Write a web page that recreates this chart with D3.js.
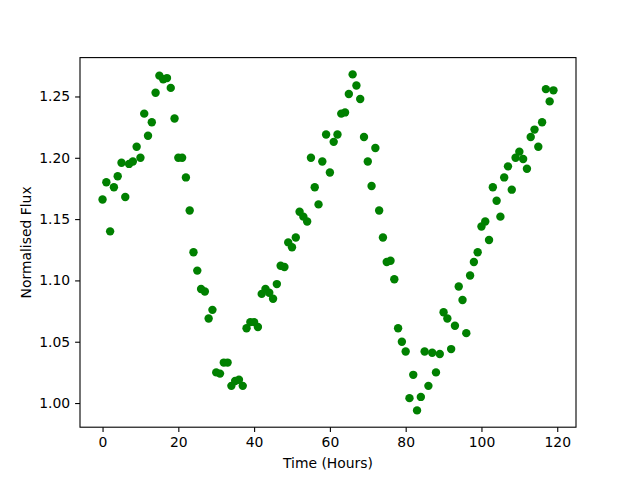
<!DOCTYPE html>
<html>
<head>
<meta charset="utf-8">
<script src="https://cdn.jsdelivr.net/npm/d3@7"></script>
<style>
  body { margin: 0; background: #fff; }
  svg text { font-family: "DejaVu Sans", sans-serif; }
</style>
</head>
<body>
<svg id="chart" width="640" height="480"></svg>
<script>
// hours 0..119, one reading per hour
const hours = d3.range(0, 120);
const flux = [
  1.166, 1.180, 1.140, 1.176, 1.185, 1.196, 1.168, 1.195, 1.197, 1.209,
  1.200, 1.236, 1.218, 1.229, 1.253, 1.267, 1.264, 1.265, 1.257, 1.232,
  1.200, 1.200, 1.184, 1.157, 1.123, 1.108, 1.093, 1.091, 1.069, 1.076,
  1.025, 1.024, 1.033, 1.033, 1.014, 1.018, 1.019, 1.014, 1.061, 1.066,
  1.066, 1.062, 1.089, 1.093, 1.090, 1.085, 1.097, 1.112, 1.111, 1.131,
  1.127, 1.135, 1.156, 1.152, 1.148, 1.200, 1.176, 1.162, 1.197, 1.219,
  1.188, 1.213, 1.219, 1.236, 1.237, 1.252, 1.268, 1.259, 1.248, 1.217,
  1.197, 1.177, 1.208, 1.157, 1.135, 1.115, 1.116, 1.101, 1.061, 1.050,
  1.042, 1.004, 1.023, 0.994, 1.005, 1.042, 1.014, 1.041, 1.025, 1.040,
  1.074, 1.069, 1.044, 1.063, 1.095, 1.084, 1.057, 1.104, 1.115, 1.123,
  1.144, 1.148, 1.133, 1.176, 1.165, 1.152, 1.184, 1.193, 1.174, 1.200,
  1.205, 1.199, 1.191, 1.217, 1.223, 1.209, 1.229, 1.256, 1.246, 1.255
];
const xTicks = [0, 20, 40, 60, 80, 100, 120];
const yTicks = [1.00, 1.05, 1.10, 1.15, 1.20, 1.25];

const svg = d3.select("#chart");
const margin = { top: 57.6, right: 64, bottom: 52.8, left: 80 };
const width = 640 - margin.left - margin.right;
const height = 480 - margin.top - margin.bottom;
const g = svg.append("g").attr("transform", "translate(" + margin.left + "," + margin.top + ")");

// matplotlib style 5% padding around the data
const xMin = d3.min(hours), xMax = d3.max(hours);
const yMin = d3.min(flux), yMax = d3.max(flux);
const xPad = (xMax - xMin) * 0.05, yPad = (yMax - yMin) * 0.05;
const x = d3.scaleLinear().domain([xMin - xPad, xMax + xPad]).range([0, width]);
const y = d3.scaleLinear().domain([yMin - yPad, yMax + yPad]).range([height, 0]);

const xAxis = g.append("g")
  .attr("transform", "translate(0," + height + ")")
  .call(d3.axisBottom(x).tickValues(xTicks).tickFormat(d3.format("d")).tickSize(4.9).tickPadding(4.9));
const yAxis = g.append("g")
  .call(d3.axisLeft(y).tickValues(yTicks).tickFormat(d3.format(".2f")).tickSize(4.9).tickPadding(4.9));

[xAxis, yAxis].forEach(a => {
  a.select(".domain").remove();
  a.selectAll("line").attr("stroke", "#000").attr("stroke-width", 1.1);
  a.selectAll("text").attr("font-size", "13.9px").attr("fill", "#000")
    .attr("font-family", "DejaVu Sans");
});

// points
g.selectAll(".dot")
  .data(hours)
  .enter().append("circle")
  .attr("class", "dot")
  .attr("cx", (d, i) => x(d))
  .attr("cy", (d, i) => y(flux[i]))
  .attr("r", 4.2)
  .attr("fill", "#008000");

// frame
g.append("rect")
  .attr("width", width).attr("height", height)
  .attr("fill", "none").attr("stroke", "#000").attr("stroke-width", 1.1);

// labels
svg.append("text")
  .attr("x", margin.left + width / 2).attr("y", 468)
  .attr("text-anchor", "middle").attr("font-size", "13.9px")
  .text("Time (Hours)");
svg.append("text")
  .attr("transform", "translate(31," + (margin.top + height / 2) + ") rotate(-90)")
  .attr("text-anchor", "middle").attr("font-size", "13.9px")
  .text("Normalised Flux");
</script>
</body>
</html>
